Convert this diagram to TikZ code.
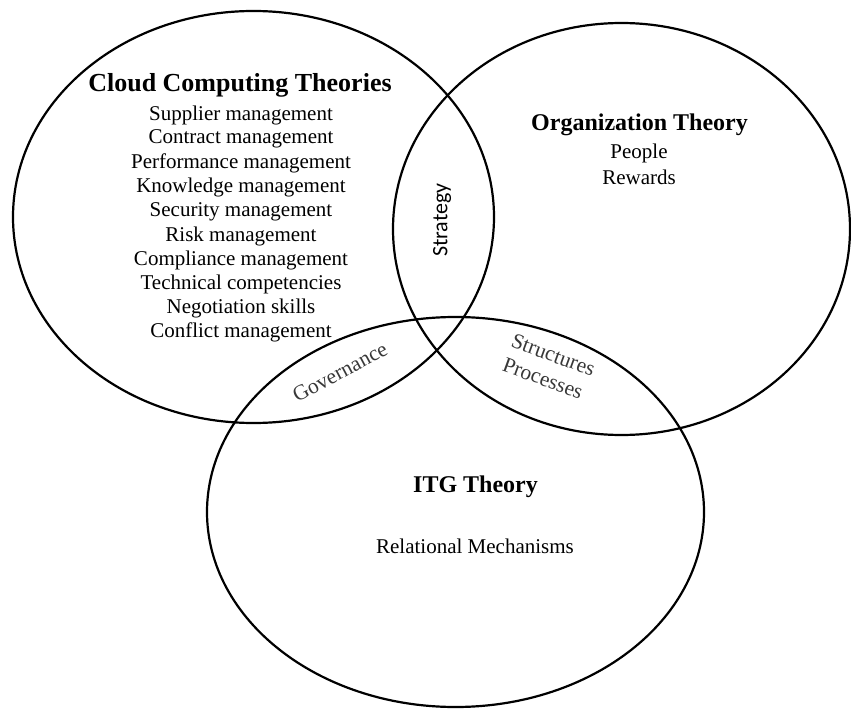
\documentclass[tikz,border=0pt]{standalone}
\usepackage{fontspec}
\setmainfont{Liberation Serif}
\newfontfamily\labelsans{Carlito}
\usetikzlibrary{shapes.geometric}

\begin{document}
\begin{tikzpicture}[x=1pt,y=-1pt,
  venn/.style={draw=black, line width=2.2pt, ellipse, inner sep=0pt, outer sep=0pt},
  heading/.style={font=\fontsize{26}{30}\selectfont\bfseries, inner sep=0pt},
  title/.style={font=\fontsize{24}{28}\selectfont\bfseries, inner sep=0pt},
  entry/.style={font=\fontsize{21}{24}\selectfont, inner sep=0pt},
  overlap/.style={font=\fontsize{21.5}{25.5}\selectfont, text=black!78, inner sep=0pt},
]
\useasboundingbox (0,0) rectangle (851,711);

% the three theory sets
\node[venn, minimum width=481pt, minimum height=412pt] (cloud) at (253.5,217) {};
\node[venn, minimum width=457pt, minimum height=412pt] (org)   at (621.5,229) {};
\node[venn, minimum width=497pt, minimum height=390pt] (itg)   at (455.5,512) {};

% cloud computing theories
\node[heading] (cloudhead) at (240,85) {Cloud Computing Theories};
\foreach \t [count=\i from 0] in {Supplier management, Contract management,
    Performance management, Knowledge management, Security management,
    Risk management, Compliance management, Technical competencies,
    Negotiation skills, Conflict management}
  \node[entry] (cloud\i) at (241,115+24.2*\i) {\t};

% organization theory
\node[title] (orghead) at (639.5,125) {Organization Theory};
\node[entry] (people)  at (639,153) {People};
\node[entry] (rewards) at (639,177) {Rewards};

% IT governance theory
\node[title] (itghead)    at (475.5,487) {ITG Theory};
\node[entry] (relational) at (475,546) {Relational Mechanisms};

% overlaps
\node[inner sep=0pt, rotate=90, font=\labelsans\fontsize{22}{26}\selectfont] (strategy) at (442,220) {Strategy};
\node[overlap, rotate=28] (governance) at (340,372) {Governance};
\node[overlap, rotate=-20, align=left] (structures) at (549,367) {Structures\\Processes};
\end{tikzpicture}
\end{document}
